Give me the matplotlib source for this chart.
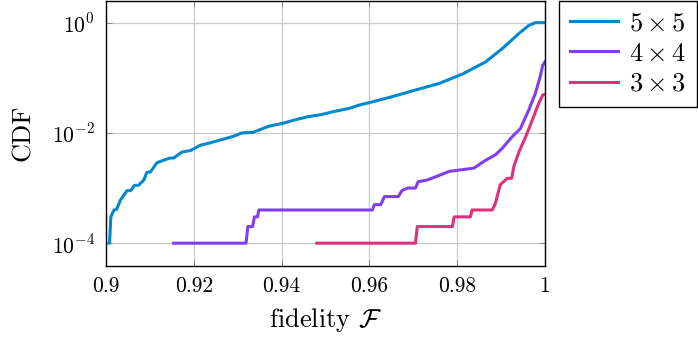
import numpy as np
import matplotlib
matplotlib.use("Agg")
import matplotlib.pyplot as plt
from matplotlib.ticker import FixedLocator, FuncFormatter, NullLocator

# ─── DATA ─────────────────────────────────────────────────────────────────────
F_5x5 = [0.9007, 0.9008, 0.9011, 0.9018, 0.9024, 0.9033, 0.9048, 0.9056, 0.9065,
         0.9074, 0.9086, 0.9093, 0.9101, 0.9116, 0.9131, 0.9146, 0.9154, 0.9173,
         0.9193, 0.9215, 0.9237, 0.9256, 0.9275, 0.9294, 0.9309, 0.9334, 0.9372,
         0.9402, 0.9430, 0.9460, 0.9490, 0.9520, 0.9554, 0.9577, 0.9607, 0.9650,
         0.9698, 0.9759, 0.9812, 0.9865, 0.9903, 0.9941, 0.9963, 0.9978, 1.0]
CDF_5x5 = [1.0e-4, 1.0e-4, 3.0e-4, 4.0e-4, 4.1e-4, 6.1e-4, 9.0e-4, 9.0e-4, 1.12e-3,
           1.12e-3, 1.4e-3, 1.93e-3, 1.95e-3, 2.88e-3, 3.2e-3, 3.5e-3, 3.5e-3, 4.5e-3,
           4.8e-3, 6.0e-3, 6.6e-3, 7.3e-3, 8.0e-3, 8.9e-3, 1.0e-2, 1.02e-2, 1.33e-2,
           1.49e-2, 1.72e-2, 1.97e-2, 2.15e-2, 2.45e-2, 2.79e-2, 3.2e-2, 3.67e-2, 4.5e-2,
           5.8e-2, 7.9e-2, 0.117, 0.195, 0.34, 0.64, 0.89, 1.0, 1.0]

F_4x4 = [0.9154, 0.9319, 0.9323, 0.9334, 0.9338, 0.9345, 0.9348, 0.9607, 0.9611,
         0.9626, 0.9634, 0.9666, 0.9674, 0.9687, 0.9705, 0.9711, 0.9732, 0.9751,
         0.9781, 0.9838, 0.9865, 0.9887, 0.9902, 0.9925, 0.9944, 0.9963, 0.9978,
         0.9989, 0.9995, 1.0]
CDF_4x4 = [1e-4, 1e-4, 2e-4, 2e-4, 3e-4, 3e-4, 4e-4, 4e-4, 5e-4,
           5e-4, 7e-4, 7e-4, 9e-4, 1.0e-3, 1.0e-3, 1.3e-3, 1.4e-3, 1.6e-3,
           2.0e-3, 2.3e-3, 3.2e-3, 4.0e-3, 5.2e-3, 8.5e-3, 1.2e-2, 2.6e-2, 5.2e-2,
           0.105, 0.17, 0.195]

F_3x3 = [0.9480, 0.9705, 0.9709, 0.9789, 0.9793, 0.9830, 0.9834, 0.9880, 0.9887,
         0.9898, 0.9914, 0.9924, 0.9929, 0.9941, 0.9956, 0.9971, 0.9986, 0.9995, 1.0]
CDF_3x3 = [1e-4, 1e-4, 2e-4, 2e-4, 3e-4, 3e-4, 4e-4, 4e-4, 5.3e-4,
           1.15e-3, 1.5e-3, 1.5e-3, 2.45e-3, 4.6e-3, 8.5e-3, 1.7e-2, 3.5e-2, 4.9e-2, 5.0e-2]

LABELS = [r"$5\times5$", r"$4\times4$", r"$3\times3$"]
COLORS = ["#0088cc", "#7f3ff0", "#e0307a"]
X_TICKS = [0.9, 0.92, 0.94, 0.96, 0.98, 1.0]
Y_TICKS = [1e-4, 1e-2, 1e0]
# ──────────────────────────────────────────────────────────────────────────────

plt.rcParams["font.family"] = "serif"
plt.rcParams["font.serif"] = ["cmr10", "DejaVu Serif"]
plt.rcParams["mathtext.fontset"] = "cm"
plt.rcParams["axes.formatter.use_mathtext"] = True

fig = plt.figure(figsize=(6.98, 3.40), dpi=100)
ax = fig.add_axes([0.1519, 0.219, 0.6289, 0.778])

for xs, ys, lab, col in zip([F_5x5, F_4x4, F_3x3], [CDF_5x5, CDF_4x4, CDF_3x3], LABELS, COLORS):
    ax.plot(xs, ys, color=col, linewidth=2.2, label=lab, solid_joinstyle="round")

ax.set_yscale("log")
ax.set_xlim(0.9, 1.0)
ax.set_ylim(3.93e-5, 2.47)
ax.xaxis.set_major_locator(FixedLocator(X_TICKS))
ax.xaxis.set_major_formatter(FuncFormatter(lambda v, p: f"{v:g}"))
ax.yaxis.set_major_locator(FixedLocator(Y_TICKS))
ax.yaxis.set_minor_locator(NullLocator())
ax.yaxis.set_major_formatter(FuncFormatter(lambda v, p: r"$10^{%d}$" % round(np.log10(v))))

ax.grid(True, color="#c8c8c8", linewidth=0.9)
ax.set_axisbelow(True)
ax.tick_params(direction="in", length=4, width=0.7, color="#888888",
               top=True, right=True, labelsize=15.5, pad=8)
for s in ax.spines.values():
    s.set_linewidth(1.0)

ax.set_xlabel(r"fidelity $\mathcal{F}$", fontsize=19, labelpad=7)
ax.set_ylabel("CDF", fontsize=19, labelpad=12)

leg = ax.legend(loc="upper left", bbox_to_anchor=(1.032, 1.0), fontsize=19,
                frameon=True, fancybox=False, edgecolor="black", framealpha=1,
                handlelength=1.85, borderpad=0.4, labelspacing=0.25, handletextpad=0.4,
                borderaxespad=0)
leg.get_frame().set_linewidth(1.0)

fig.savefig("out.png", dpi=100)
